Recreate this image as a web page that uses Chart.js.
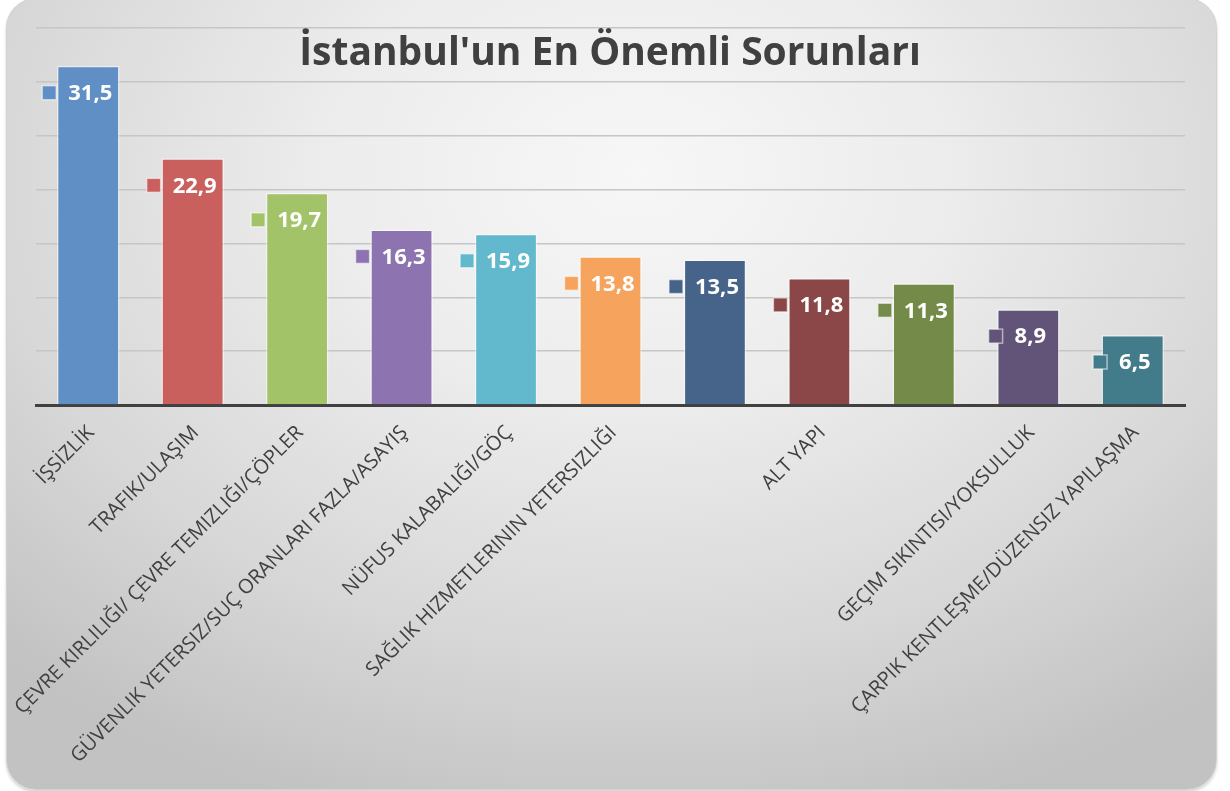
<!DOCTYPE html>
<html>
<head>
<meta charset="utf-8">
<script src="https://cdn.jsdelivr.net/npm/chart.js@4.4.1/dist/chart.umd.min.js"></script>
<style>
  html, body { margin:0; padding:0; background:#ffffff; }
  #wrap { position:relative; width:1230px; height:791px; overflow:hidden; }
  #bg {
    position:absolute; left:6px; top:-2px; width:1209px; height:790px;
    border-radius:30px;
    background: radial-gradient(ellipse 75% 85% at 52% 22%, #f7f7f7 0%, #ececec 35%, #d8d8d8 70%, #c2c2c2 100%);
    border:1px solid #d2d2d2;
    box-shadow: 0 2px 3px rgba(0,0,0,0.18);
  }
  canvas { position:absolute; left:0; top:0; }
</style>
</head>
<body>
<div id="wrap">
  <div id="bg"></div>
  <canvas id="c" width="1230" height="791"></canvas>
</div>
<script>
const titleText = "İstanbul'un En Önemli Sorunları";
const categories = [
  "İŞSİZLİK",
  "TRAFIK/ULAŞIM",
  "ÇEVRE KIRLILIĞI/ ÇEVRE TEMIZLIĞI/ÇÖPLER",
  "GÜVENLIK YETERSIZ/SUÇ ORANLARI FAZLA/ASAYIŞ",
  "NÜFUS KALABALIĞI/GÖÇ",
  "SAĞLIK HIZMETLERININ YETERSIZLIĞI",
  "",
  "ALT YAPI",
  "",
  "GEÇIM SIKINTISI/YOKSULLUK",
  "ÇARPIK KENTLEŞME/DÜZENSIZ YAPILAŞMA"
];
const values = [31.5, 22.9, 19.7, 16.3, 15.9, 13.8, 13.5, 11.8, 11.3, 8.9, 6.5];
const barColors = ["#5f8fc4", "#c9605e", "#a3c369", "#8d73af", "#62b8cc", "#f6a45d",
                   "#466489", "#8b4747", "#738a48", "#625478", "#427b89"];
const yTicks = [0, 5, 10, 15, 20, 25, 30, 35];

const labelPlugin = {
  id: 'valueLabels',
  afterDatasetsDraw(chart) {
    const ctx = chart.ctx;
    const meta = chart.getDatasetMeta(0);
    ctx.save();
    ctx.font = "bold 22px 'Open Sans'";
    ctx.textBaseline = 'middle';
    ctx.textAlign = 'center';
    meta.data.forEach((bar, i) => {
      const txt = values[i].toFixed(1).replace('.', ',');
      const w = ctx.measureText(txt).width;
      const cx = bar.x + 2;
      const cy = bar.y + 27;
      const sq = 14;
      const sx = cx - w / 2 - 12 - sq;
      ctx.fillStyle = barColors[i];
      ctx.fillRect(sx, cy - sq / 2, sq, sq);
      ctx.strokeStyle = 'rgba(255,255,255,0.55)';
      ctx.lineWidth = 1.5;
      ctx.strokeRect(sx, cy - sq / 2, sq, sq);
      ctx.fillStyle = '#ffffff';
      ctx.fillText(txt, cx, cy + 1);
    });
    ctx.restore();
  }
};

const titlePlugin = {
  id: 'overlayTitle',
  afterDraw(chart) {
    const ctx = chart.ctx;
    ctx.save();
    ctx.font = "bold 39px 'Open Sans'";
    ctx.fillStyle = '#404040';
    ctx.textAlign = 'center';
    ctx.textBaseline = 'alphabetic';
    ctx.fillText(titleText, 610, 65);
    ctx.restore();
  }
};

new Chart(document.getElementById('c'), {
  type: 'bar',
  data: {
    labels: categories,
    datasets: [{
      data: values,
      backgroundColor: barColors,
      borderColor: 'rgba(255,255,255,0.45)',
      borderWidth: 1.5,
      categoryPercentage: 1.0,
      barPercentage: 0.6
    }]
  },
  options: {
    responsive: false,
    devicePixelRatio: 1,
    animation: false,
    layout: { padding: { left: 36, right: 45, top: 28, bottom: 0 } },
    plugins: {
      legend: { display: false },
      title: { display: false },
      tooltip: { enabled: false }
    },
    scales: {
      x: {
        grid: { display: false },
        border: { display: true, color: '#404040', width: 3 },
        ticks: {
          color: '#404040',
          font: { family: "'Open Sans'", size: 20 },
          minRotation: 45,
          maxRotation: 45,
          autoSkip: false,
          padding: 8,
          labelOffset: 3
        },
        afterFit(s) { s.height = 386; }
      },
      y: {
        min: yTicks[0],
        max: yTicks[yTicks.length - 1],
        afterBuildTicks(s) { s.ticks = yTicks.map(v => ({ value: v })); },
        ticks: { display: false },
        grid: { color: '#c6c6c6', lineWidth: 1.5, drawTicks: false },
        border: { display: false },
        afterFit(s) { s.width = 0; }
      }
    }
  },
  plugins: [labelPlugin, titlePlugin]
});
</script>
</body>
</html>
